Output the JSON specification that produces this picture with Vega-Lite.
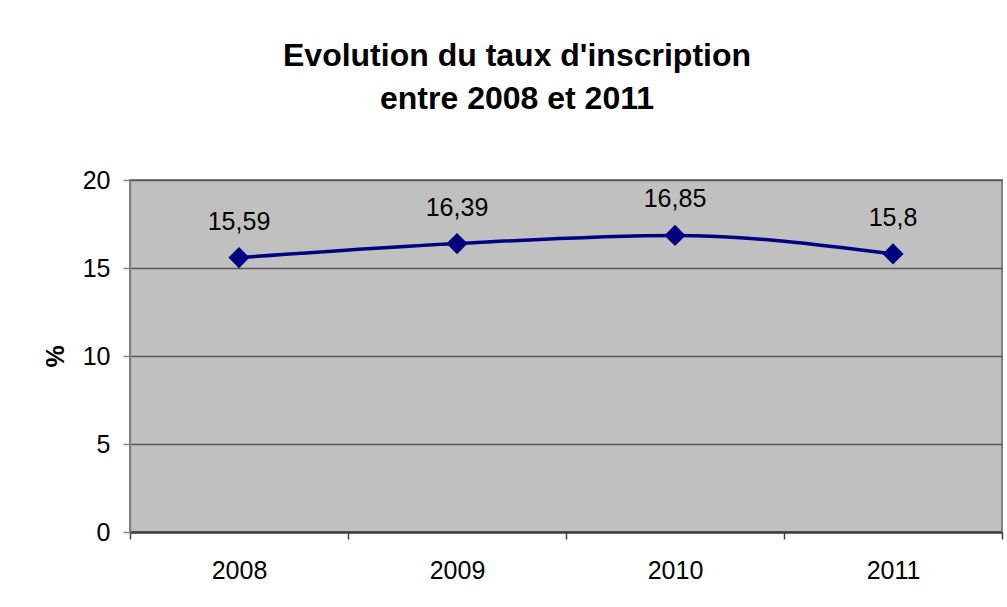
{
  "$schema": "https://vega.github.io/schema/vega-lite/v6.json",
  "autosize": "none",
  "width": 872,
  "height": 352,
  "padding": {"left": 130, "top": 180, "right": 5, "bottom": 75},
  "background": "white",
  "config": {
    "locale": {"number": {"decimal": ",", "thousands": " ", "grouping": [3], "currency": ["", " €"]}},
    "font": "Liberation Sans",
    "view": {"fill": "#C0C0C0", "stroke": "#808080", "strokeWidth": 2}
  },
  "title": {
    "text": ["Evolution du taux d'inscription", "entre 2008 et 2011"],
    "font": "Liberation Sans",
    "fontSize": 32,
    "fontWeight": "bold",
    "color": "#000000",
    "anchor": "middle",
    "frame": "group",
    "dx": -49,
    "offset": 52,
    "lineHeight": 43
  },
  "data": {
    "values": [
      {"annee": "2008", "taux": 15.59},
      {"annee": "2009", "taux": 16.39},
      {"annee": "2010", "taux": 16.85},
      {"annee": "2011", "taux": 15.8}
    ]
  },
  "encoding": {
    "x": {
      "field": "annee",
      "type": "ordinal",
      "bandPosition": 0.5,
      "scale": {"type": "band", "paddingInner": 0, "paddingOuter": 0},
      "axis": {
        "title": null,
        "labelAngle": 0,
        "labelFontSize": 25,
        "labelColor": "#000000",
        "labelPadding": 19,
        "tickBand": "extent",
        "tickColor": "#404040",
        "tickSize": 7,
        "tickWidth": 1.5,
        "domainColor": "#404040",
        "domainWidth": 2.5,
        "grid": false
      }
    },
    "y": {
      "field": "taux",
      "type": "quantitative",
      "scale": {"domain": [0, 20]},
      "axis": {
        "title": "%",
        "titleFontSize": 25,
        "titleFontWeight": "bold",
        "titleColor": "#000000",
        "titlePadding": 14,
        "values": [0, 5, 10, 15, 20],
        "labelFontSize": 25,
        "labelColor": "#000000",
        "labelPadding": 13,
        "tickColor": "#808080",
        "tickSize": 7,
        "tickWidth": 1.5,
        "domainColor": "#808080",
        "domainWidth": 1.5,
        "gridColor": "#5a5a5a",
        "gridWidth": 1.5,
        "gridOpacity": 1
      }
    }
  },
  "layer": [
    {
      "mark": {"type": "line", "color": "#000080", "strokeWidth": 3.5, "interpolate": "monotone"}
    },
    {
      "mark": {"type": "point", "shape": "diamond", "size": 450, "filled": true, "color": "#000080", "opacity": 1}
    },
    {
      "mark": {"type": "text", "fontSize": 25, "color": "#000000", "baseline": "alphabetic", "dy": -28},
      "encoding": {"text": {"field": "taux", "type": "quantitative", "format": "~g"}}
    }
  ]
}
